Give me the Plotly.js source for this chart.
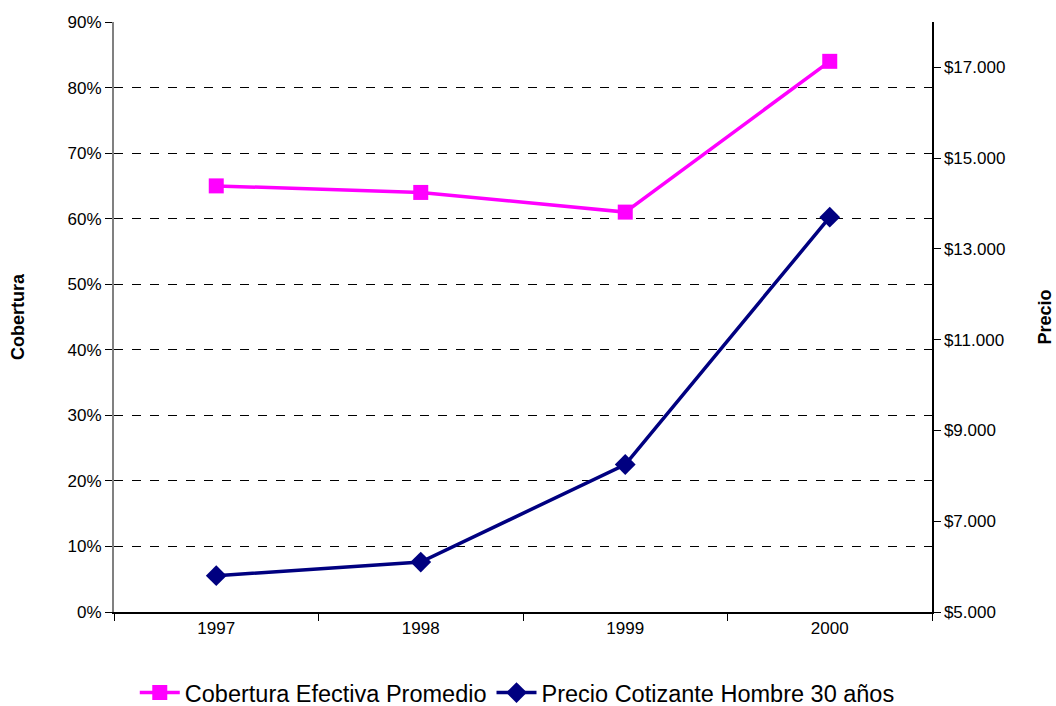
<!DOCTYPE html>
<html><head><meta charset="utf-8">
<script src="https://cdn.plot.ly/plotly-3.0.1.min.js"></script>
<style>html,body{margin:0;padding:0;background:#fff}#c{width:1056px;height:706px}</style>
</head><body><div id="c"></div>
<script>
const years = ['1997','1998','1999','2000'];
const cobertura = [0.65, 0.64, 0.61, 0.84];
const precio = [5800, 6100, 8250, 13700];
const leftTicks = [0,0.1,0.2,0.3,0.4,0.5,0.6,0.7,0.8,0.9];
const rightTicks = [5000,7000,9000,11000,13000,15000,17000];
const rightLabels = ['$5.000','$7.000','$9.000','$11.000','$13.000','$15.000','$17.000'];

const font = {family:'"Liberation Sans", Arial, sans-serif', color:'#000'};
const traces = [
 {x:years, y:cobertura, name:'Cobertura Efectiva Promedio', type:'scatter', mode:'lines+markers',
  line:{color:'#ff00ff', width:3.5}, marker:{symbol:'square', size:15, color:'#ff00ff'}, yaxis:'y'},
 {x:years, y:precio, name:'Precio Cotizante Hombre 30 años', type:'scatter', mode:'lines+markers',
  line:{color:'#000080', width:3.5}, marker:{symbol:'diamond', size:16, color:'#000080'}, yaxis:'y2'}
];
const layout = {
 width:1056, height:706, paper_bgcolor:'#fff', plot_bgcolor:'#fff',
 margin:{l:114, r:124, t:22, b:94, autoexpand:false},
 font: Object.assign({size:16}, font),
 showlegend:true,
 legend:{orientation:'h', x:0.493, xanchor:'center', y:-0.137, yanchor:'middle', font:Object.assign({size:23.5},font), itemwidth:40, tracegroupgap:0},
 xaxis:{type:'category', range:[-0.5,3.5], tickson:'boundaries', ticks:'outside', ticklen:7, tickcolor:'#000',
   showline:true, linecolor:'#000', linewidth:1.5, showgrid:false, zeroline:false, tickfont:Object.assign({size:17},font)},
 yaxis:{range:[0,0.9], tickvals:leftTicks, tickformat:'.0%', ticks:'outside', ticklen:7, tickcolor:'#000',
   showline:true, linecolor:'#808080', linewidth:2, showgrid:true, gridcolor:'#000', griddash:'dash', gridwidth:1,
   zeroline:false, tickfont:Object.assign({size:17},font),
   title:{text:'<b>Cobertura</b>', font:Object.assign({size:18},font), standoff:38}},
 yaxis2:{range:[5000,18000], overlaying:'y', side:'right', tickvals:rightTicks, ticktext:rightLabels,
   ticks:'outside', ticklen:7, tickcolor:'#000', showline:true, linecolor:'#000', linewidth:1.5, showgrid:false,
   zeroline:false, tickfont:Object.assign({size:17},font),
   title:{text:'<b>Precio</b>', font:Object.assign({size:18},font), standoff:34}}
};
Plotly.newPlot('c', traces, layout, {displayModeBar:false, staticPlot:true});
</script></body></html>
